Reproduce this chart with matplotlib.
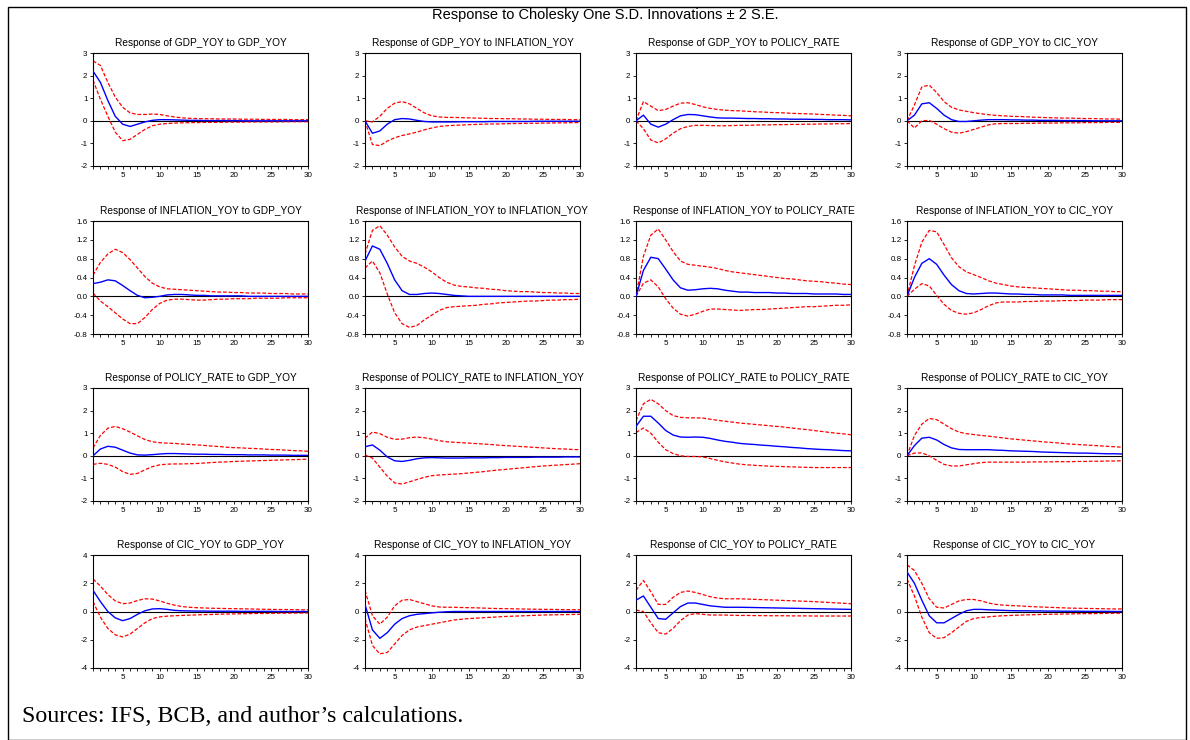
import matplotlib
matplotlib.use("Agg")
import matplotlib.pyplot as plt
from matplotlib.patches import Rectangle
from matplotlib.ticker import MultipleLocator, FormatStrFormatter

plt.rcParams['font.family'] = ['Liberation Sans', 'DejaVu Sans']

periods = list(range(1, 31))
variables = ["GDP_YOY", "INFLATION_YOY", "POLICY_RATE", "CIC_YOY"]
suptitle = "Response to Cholesky One S.D. Innovations \u00b1 2 S.E."
source_note = "Sources: IFS, BCB, and author\u2019s calculations."

# ---- Row 1: response of GDP_YOY ----
resp_gdp_gdp = [2.2,1.7,0.9,0.2,-0.15,-0.25,-0.15,-0.05,0.02,0.05,0.05,0.04,0.03,0.02,0.02,0.01,0.01,0.01,0.01,0.01,0.0,0.0,0.0,0.0,0.0,0.0,0.0,0.0,0.0,0.0]
up_gdp_gdp = [2.65,2.45,1.7,1.05,0.6,0.35,0.28,0.28,0.3,0.28,0.22,0.17,0.13,0.11,0.1,0.09,0.09,0.08,0.08,0.08,0.07,0.07,0.07,0.06,0.06,0.06,0.06,0.05,0.05,0.05]
lo_gdp_gdp = [1.8,0.95,0.2,-0.5,-0.88,-0.82,-0.6,-0.38,-0.22,-0.15,-0.12,-0.1,-0.09,-0.08,-0.08,-0.07,-0.07,-0.07,-0.06,-0.06,-0.06,-0.05,-0.05,-0.05,-0.05,-0.05,-0.04,-0.04,-0.04,-0.04]

resp_gdp_inf = [0.0,-0.55,-0.45,-0.15,0.05,0.1,0.08,0.02,-0.03,-0.05,-0.05,-0.05,-0.05,-0.04,-0.04,-0.04,-0.04,-0.03,-0.03,-0.03,-0.03,-0.03,-0.03,-0.02,-0.02,-0.02,-0.02,-0.02,-0.02,-0.02]
up_gdp_inf = [0.0,-0.05,0.2,0.55,0.78,0.85,0.75,0.55,0.35,0.22,0.17,0.15,0.15,0.14,0.13,0.12,0.11,0.1,0.1,0.09,0.09,0.08,0.08,0.07,0.07,0.06,0.06,0.06,0.05,0.05]
lo_gdp_inf = [0.0,-1.05,-1.1,-0.9,-0.75,-0.65,-0.58,-0.5,-0.4,-0.32,-0.25,-0.22,-0.2,-0.19,-0.17,-0.16,-0.15,-0.14,-0.14,-0.13,-0.12,-0.12,-0.11,-0.11,-0.1,-0.1,-0.09,-0.09,-0.08,-0.08]

resp_gdp_pol = [0.0,0.25,-0.15,-0.28,-0.15,0.05,0.22,0.28,0.27,0.22,0.17,0.13,0.12,0.12,0.11,0.1,0.1,0.09,0.09,0.08,0.08,0.07,0.07,0.07,0.06,0.06,0.05,0.05,0.05,0.04]
up_gdp_pol = [0.0,0.85,0.65,0.45,0.5,0.65,0.78,0.8,0.72,0.62,0.55,0.5,0.47,0.45,0.44,0.42,0.4,0.39,0.37,0.36,0.35,0.33,0.32,0.31,0.3,0.28,0.27,0.25,0.24,0.22]
lo_gdp_pol = [0.0,-0.35,-0.85,-0.98,-0.8,-0.55,-0.35,-0.25,-0.2,-0.2,-0.21,-0.22,-0.22,-0.21,-0.2,-0.2,-0.19,-0.18,-0.18,-0.17,-0.17,-0.16,-0.16,-0.15,-0.15,-0.14,-0.14,-0.13,-0.13,-0.12]

resp_gdp_cic = [0.0,0.25,0.75,0.8,0.55,0.25,0.05,-0.03,-0.03,0.0,0.03,0.05,0.05,0.05,0.04,0.04,0.03,0.03,0.02,0.02,0.02,0.01,0.01,0.01,0.01,0.0,0.0,0.0,0.0,0.0]
up_gdp_cic = [0.0,0.7,1.5,1.58,1.25,0.85,0.6,0.48,0.42,0.36,0.31,0.27,0.24,0.22,0.2,0.19,0.18,0.16,0.15,0.14,0.13,0.12,0.12,0.11,0.1,0.1,0.09,0.08,0.08,0.07]
lo_gdp_cic = [0.0,-0.32,0.0,0.02,-0.15,-0.35,-0.5,-0.55,-0.48,-0.38,-0.28,-0.18,-0.13,-0.12,-0.12,-0.12,-0.11,-0.11,-0.1,-0.1,-0.1,-0.09,-0.09,-0.09,-0.08,-0.08,-0.08,-0.07,-0.07,-0.07]

# ---- Row 2: response of INFLATION_YOY ----
resp_inf_gdp = [0.27,0.3,0.35,0.33,0.23,0.12,0.02,-0.03,-0.02,0.0,0.03,0.04,0.04,0.03,0.02,0.02,0.01,0.01,0.01,0.01,0.01,0.0,0.0,0.0,0.0,0.0,0.0,0.0,0.0,0.0]
up_inf_gdp = [0.45,0.72,0.9,1.0,0.93,0.78,0.6,0.42,0.28,0.2,0.16,0.15,0.14,0.13,0.12,0.11,0.1,0.09,0.09,0.08,0.08,0.07,0.07,0.07,0.06,0.06,0.06,0.05,0.05,0.05]
lo_inf_gdp = [0.07,-0.1,-0.22,-0.35,-0.48,-0.58,-0.58,-0.45,-0.28,-0.15,-0.08,-0.06,-0.06,-0.07,-0.08,-0.08,-0.07,-0.06,-0.06,-0.05,-0.05,-0.05,-0.04,-0.04,-0.04,-0.04,-0.03,-0.03,-0.03,-0.03]

resp_inf_inf = [0.75,1.07,1.0,0.7,0.35,0.12,0.04,0.04,0.06,0.07,0.06,0.04,0.02,0.01,0.0,0.0,0.0,0.0,0.0,0.0,0.0,0.0,0.0,0.0,0.0,0.0,0.0,0.0,0.0,0.0]
up_inf_inf = [0.9,1.4,1.5,1.3,1.05,0.85,0.75,0.7,0.62,0.52,0.4,0.3,0.24,0.21,0.2,0.18,0.17,0.15,0.14,0.12,0.11,0.1,0.1,0.09,0.08,0.08,0.07,0.07,0.06,0.06]
lo_inf_inf = [0.6,0.75,0.5,0.05,-0.35,-0.58,-0.66,-0.62,-0.5,-0.4,-0.3,-0.24,-0.22,-0.21,-0.2,-0.19,-0.17,-0.16,-0.14,-0.13,-0.12,-0.11,-0.1,-0.1,-0.09,-0.08,-0.08,-0.07,-0.07,-0.06]

resp_inf_pol = [0.0,0.55,0.83,0.8,0.58,0.35,0.18,0.13,0.14,0.16,0.17,0.16,0.13,0.11,0.09,0.09,0.08,0.08,0.08,0.07,0.07,0.06,0.06,0.06,0.05,0.05,0.05,0.05,0.04,0.04]
up_inf_pol = [0.0,0.85,1.3,1.43,1.2,0.95,0.75,0.68,0.66,0.64,0.62,0.59,0.55,0.52,0.5,0.48,0.46,0.44,0.42,0.4,0.38,0.37,0.35,0.33,0.32,0.31,0.29,0.28,0.26,0.25]
lo_inf_pol = [0.0,0.28,0.35,0.2,-0.05,-0.25,-0.38,-0.42,-0.38,-0.32,-0.27,-0.27,-0.28,-0.29,-0.3,-0.29,-0.28,-0.28,-0.27,-0.26,-0.25,-0.24,-0.23,-0.22,-0.22,-0.21,-0.2,-0.19,-0.19,-0.18]

resp_inf_cic = [0.0,0.4,0.7,0.8,0.68,0.45,0.25,0.12,0.06,0.05,0.06,0.07,0.07,0.06,0.05,0.05,0.04,0.04,0.03,0.03,0.03,0.03,0.02,0.02,0.02,0.02,0.02,0.02,0.02,0.02]
up_inf_cic = [0.0,0.65,1.15,1.4,1.37,1.1,0.82,0.63,0.52,0.46,0.4,0.33,0.28,0.25,0.22,0.2,0.19,0.18,0.17,0.16,0.15,0.14,0.13,0.13,0.12,0.12,0.11,0.11,0.1,0.1]
lo_inf_cic = [0.0,0.15,0.27,0.22,0.02,-0.17,-0.3,-0.36,-0.38,-0.35,-0.28,-0.2,-0.14,-0.12,-0.12,-0.12,-0.11,-0.11,-0.1,-0.1,-0.1,-0.09,-0.09,-0.09,-0.08,-0.08,-0.08,-0.07,-0.07,-0.07]

# ---- Row 3: response of POLICY_RATE ----
resp_pol_gdp = [0.0,0.3,0.42,0.38,0.25,0.12,0.04,0.03,0.05,0.08,0.1,0.1,0.09,0.08,0.07,0.07,0.06,0.06,0.05,0.05,0.05,0.04,0.04,0.04,0.03,0.03,0.03,0.02,0.02,0.02]
up_pol_gdp = [0.35,0.9,1.22,1.3,1.2,1.05,0.88,0.72,0.62,0.58,0.56,0.55,0.52,0.5,0.48,0.46,0.43,0.41,0.38,0.36,0.35,0.33,0.32,0.3,0.28,0.27,0.25,0.23,0.22,0.2]
lo_pol_gdp = [-0.38,-0.33,-0.38,-0.5,-0.7,-0.82,-0.78,-0.62,-0.48,-0.4,-0.37,-0.36,-0.36,-0.35,-0.34,-0.32,-0.3,-0.28,-0.27,-0.25,-0.24,-0.23,-0.22,-0.21,-0.2,-0.19,-0.18,-0.17,-0.16,-0.15]

resp_pol_inf = [0.4,0.48,0.25,-0.05,-0.22,-0.25,-0.2,-0.13,-0.09,-0.08,-0.09,-0.1,-0.1,-0.1,-0.09,-0.09,-0.09,-0.08,-0.08,-0.07,-0.07,-0.07,-0.07,-0.06,-0.06,-0.06,-0.06,-0.05,-0.05,-0.05]
up_pol_inf = [0.78,1.05,0.98,0.82,0.73,0.74,0.8,0.83,0.8,0.74,0.67,0.62,0.6,0.58,0.56,0.54,0.52,0.5,0.47,0.45,0.43,0.41,0.39,0.37,0.35,0.33,0.31,0.3,0.28,0.27]
lo_pol_inf = [0.03,-0.1,-0.5,-0.9,-1.2,-1.25,-1.15,-1.05,-0.95,-0.88,-0.85,-0.83,-0.81,-0.79,-0.76,-0.73,-0.7,-0.66,-0.63,-0.6,-0.57,-0.54,-0.51,-0.48,-0.45,-0.43,-0.41,-0.39,-0.37,-0.35]

resp_pol_pol = [1.3,1.75,1.75,1.45,1.12,0.92,0.83,0.82,0.83,0.82,0.77,0.7,0.64,0.6,0.55,0.52,0.5,0.47,0.45,0.42,0.4,0.37,0.35,0.32,0.3,0.28,0.27,0.25,0.23,0.22]
up_pol_pol = [1.55,2.3,2.5,2.3,2.0,1.78,1.7,1.68,1.68,1.67,1.62,1.57,1.53,1.49,1.45,1.42,1.39,1.36,1.33,1.3,1.27,1.23,1.19,1.16,1.12,1.08,1.04,1.0,0.97,0.93]
lo_pol_pol = [1.03,1.23,1.0,0.6,0.27,0.1,0.0,-0.03,-0.03,-0.05,-0.12,-0.2,-0.27,-0.32,-0.37,-0.4,-0.42,-0.44,-0.46,-0.47,-0.48,-0.49,-0.5,-0.51,-0.52,-0.52,-0.52,-0.52,-0.52,-0.52]

resp_pol_cic = [0.0,0.45,0.78,0.82,0.7,0.5,0.35,0.28,0.27,0.27,0.27,0.27,0.25,0.24,0.22,0.21,0.2,0.19,0.17,0.16,0.15,0.14,0.13,0.12,0.12,0.11,0.1,0.09,0.09,0.08]
up_pol_cic = [0.0,0.9,1.4,1.65,1.6,1.4,1.2,1.05,0.98,0.94,0.9,0.87,0.83,0.79,0.75,0.72,0.69,0.66,0.63,0.6,0.58,0.55,0.52,0.5,0.48,0.46,0.44,0.42,0.4,0.38]
lo_pol_cic = [0.0,0.12,0.13,0.0,-0.2,-0.38,-0.45,-0.45,-0.4,-0.35,-0.3,-0.28,-0.28,-0.28,-0.28,-0.28,-0.28,-0.27,-0.27,-0.27,-0.26,-0.26,-0.26,-0.25,-0.25,-0.24,-0.24,-0.23,-0.23,-0.22]

# ---- Row 4: response of CIC_YOY ----
resp_cic_gdp = [1.5,0.7,0.0,-0.45,-0.65,-0.5,-0.2,0.05,0.18,0.2,0.15,0.08,0.05,0.04,0.03,0.03,0.02,0.02,0.02,0.02,0.01,0.01,0.01,0.01,0.01,0.0,0.0,0.0,0.0,0.0]
up_cic_gdp = [2.3,1.8,1.2,0.75,0.55,0.6,0.78,0.9,0.88,0.75,0.58,0.45,0.35,0.3,0.27,0.25,0.23,0.22,0.21,0.2,0.19,0.18,0.17,0.16,0.15,0.14,0.14,0.13,0.12,0.12]
lo_cic_gdp = [0.7,-0.4,-1.2,-1.65,-1.8,-1.6,-1.2,-0.8,-0.5,-0.38,-0.33,-0.3,-0.28,-0.26,-0.24,-0.22,-0.21,-0.19,-0.18,-0.17,-0.16,-0.15,-0.14,-0.14,-0.13,-0.12,-0.12,-0.11,-0.11,-0.1]

resp_cic_inf = [0.5,-1.3,-1.9,-1.5,-0.9,-0.5,-0.3,-0.2,-0.15,-0.1,-0.05,-0.02,0.0,0.0,0.0,0.0,0.0,0.0,0.0,0.0,0.0,0.0,0.0,0.0,0.0,0.0,0.0,0.0,0.0,0.0]
up_cic_inf = [1.5,-0.3,-0.9,-0.4,0.4,0.8,0.85,0.7,0.55,0.4,0.32,0.3,0.3,0.28,0.27,0.26,0.24,0.22,0.21,0.2,0.19,0.18,0.17,0.16,0.15,0.15,0.14,0.13,0.13,0.12]
lo_cic_inf = [-0.5,-2.4,-3.0,-2.9,-2.3,-1.7,-1.3,-1.1,-1.0,-0.9,-0.8,-0.7,-0.6,-0.55,-0.5,-0.47,-0.44,-0.41,-0.38,-0.35,-0.33,-0.31,-0.29,-0.27,-0.25,-0.24,-0.23,-0.22,-0.21,-0.2]

resp_cic_pol = [0.8,1.1,0.3,-0.5,-0.55,-0.1,0.35,0.6,0.6,0.5,0.4,0.35,0.3,0.3,0.3,0.29,0.28,0.27,0.26,0.25,0.24,0.23,0.22,0.21,0.2,0.19,0.18,0.17,0.16,0.15]
up_cic_pol = [1.5,2.2,1.4,0.5,0.5,1.0,1.35,1.45,1.35,1.2,1.05,0.95,0.9,0.9,0.9,0.88,0.86,0.84,0.82,0.8,0.78,0.76,0.74,0.72,0.7,0.67,0.64,0.61,0.58,0.55]
lo_cic_pol = [0.1,0.0,-0.8,-1.5,-1.6,-1.2,-0.65,-0.25,-0.15,-0.2,-0.25,-0.25,-0.25,-0.27,-0.28,-0.28,-0.29,-0.29,-0.3,-0.3,-0.3,-0.31,-0.31,-0.31,-0.32,-0.32,-0.32,-0.32,-0.32,-0.32]

resp_cic_cic = [2.8,2.0,0.8,-0.3,-0.8,-0.8,-0.5,-0.2,0.05,0.15,0.15,0.12,0.1,0.08,0.06,0.05,0.05,0.04,0.04,0.03,0.03,0.02,0.02,0.02,0.01,0.01,0.01,0.01,0.0,0.0]
up_cic_cic = [3.3,2.9,2.0,0.9,0.3,0.25,0.5,0.75,0.85,0.85,0.75,0.6,0.5,0.45,0.42,0.4,0.37,0.34,0.32,0.3,0.28,0.26,0.24,0.23,0.22,0.21,0.2,0.19,0.18,0.18]
lo_cic_cic = [2.3,1.1,-0.4,-1.5,-1.9,-1.85,-1.5,-1.1,-0.7,-0.5,-0.42,-0.38,-0.33,-0.3,-0.28,-0.26,-0.24,-0.23,-0.21,-0.2,-0.19,-0.18,-0.17,-0.16,-0.15,-0.15,-0.14,-0.13,-0.13,-0.12]

panels = [
    [(resp_gdp_gdp, up_gdp_gdp, lo_gdp_gdp), (resp_gdp_inf, up_gdp_inf, lo_gdp_inf),
     (resp_gdp_pol, up_gdp_pol, lo_gdp_pol), (resp_gdp_cic, up_gdp_cic, lo_gdp_cic)],
    [(resp_inf_gdp, up_inf_gdp, lo_inf_gdp), (resp_inf_inf, up_inf_inf, lo_inf_inf),
     (resp_inf_pol, up_inf_pol, lo_inf_pol), (resp_inf_cic, up_inf_cic, lo_inf_cic)],
    [(resp_pol_gdp, up_pol_gdp, lo_pol_gdp), (resp_pol_inf, up_pol_inf, lo_pol_inf),
     (resp_pol_pol, up_pol_pol, lo_pol_pol), (resp_pol_cic, up_pol_cic, lo_pol_cic)],
    [(resp_cic_gdp, up_cic_gdp, lo_cic_gdp), (resp_cic_inf, up_cic_inf, lo_cic_inf),
     (resp_cic_pol, up_cic_pol, lo_cic_pol), (resp_cic_cic, up_cic_cic, lo_cic_cic)],
]

row_ylim = [(-2, 3), (-0.8, 1.6), (-2, 3), (-4, 4)]
row_ystep = [1, 0.4, 1, 2]
row_yfmt = ['%d', '%.1f', '%d', '%d']

W, H = 1190, 740
fig = plt.figure(figsize=(W / 100, H / 100), dpi=100)

col_left = [93, 365, 636, 907]
row_top = [53, 221, 388, 555]
ax_w, ax_h = 215, 113

for i in range(4):
    for j in range(4):
        l = col_left[j] / W
        b = 1 - (row_top[i] + ax_h) / H
        ax = fig.add_axes([l, b, ax_w / W, ax_h / H])
        resp, up, lo = panels[i][j]
        ax.axhline(0, color='black', lw=0.8, zorder=1)
        ax.plot(periods, up, color='#ff0000', lw=0.9, ls=(0, (3, 1.5)), zorder=2)
        ax.plot(periods, lo, color='#ff0000', lw=0.9, ls=(0, (3, 1.5)), zorder=2)
        ax.plot(periods, resp, color='#0000ff', lw=1.0, zorder=3)
        ax.set_xlim(1, 30)
        ax.set_ylim(*row_ylim[i])
        ax.xaxis.set_major_locator(MultipleLocator(5))
        ax.xaxis.set_minor_locator(MultipleLocator(1))
        ax.yaxis.set_major_locator(MultipleLocator(row_ystep[i]))
        ax.yaxis.set_major_formatter(FormatStrFormatter(row_yfmt[i]))
        ax.tick_params(axis='both', which='both', direction='out', length=2.5, width=0.6,
                       labelsize=5.8, pad=1.5)
        for s in ax.spines.values():
            s.set_linewidth(0.8)
        ax.set_title(f"Response of {variables[i]} to {variables[j]}", fontsize=7.3, pad=5)

fig.text(605 / W, 1 - 15 / H, suptitle, ha='center', va='center', fontsize=10.5)
fig.text(22 / W, 1 - 716 / H, source_note, ha='left', va='center', fontsize=17.3,
         family=['Liberation Serif', 'DejaVu Serif'])

fig.patches.append(Rectangle((8 / W, 0.5 / H), (1186 - 8) / W, (739 - 6) / H,
                             transform=fig.transFigure, fill=False, lw=1.0, ec='black'))

fig.savefig("out.png", dpi=100)
